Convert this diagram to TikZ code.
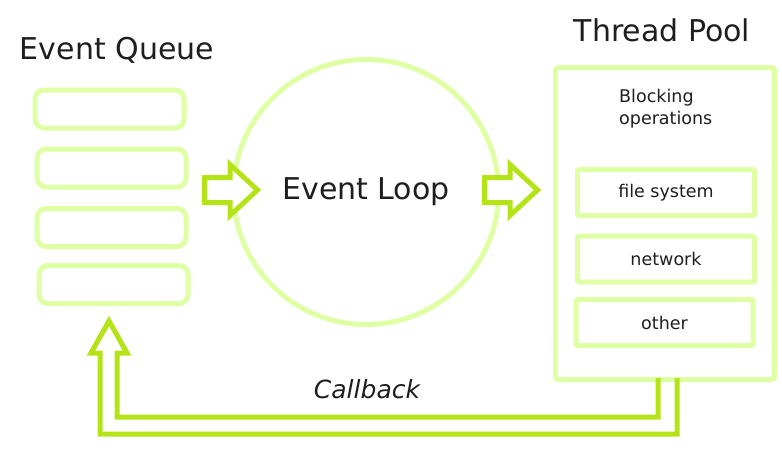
\documentclass[tikz,border=0pt]{standalone}
\usepackage{fontspec}
\setmainfont{DejaVu Sans}
\usepackage{tikz}
\usetikzlibrary{positioning}
\usetikzlibrary{calc}

\definecolor{palegreen}{RGB}{222,255,163}
\definecolor{limegreen}{RGB}{180,228,24}
\definecolor{inkgray}{RGB}{30,30,30}

\tikzset{
  queuebox/.style={draw=palegreen,line width=5pt,rounded corners=9pt,
                   minimum width=149pt,minimum height=38pt,inner sep=0pt},
  opbox/.style={draw=palegreen,line width=5pt,minimum width=177pt,rounded corners=1.5pt,
                minimum height=46pt,inner sep=0pt,font=\fontsize{17.5}{20}\selectfont,text=inkgray},
  title/.style={font=\fontsize{30}{35}\selectfont,text=inkgray},
  fatarrow/.style={draw=limegreen,line width=5pt,line join=miter,fill=white},
  fatline/.style={draw=limegreen,line width=5pt,line join=miter}
}

\begin{document}
\begin{tikzpicture}[x=1pt,y=-1pt]
\useasboundingbox (0,0) rectangle (782,471);
% event queue
\node[title] (qtitle) at (117,50) {Event Queue};
\node[queuebox] (q1) at (109.5,109) {};
\node[queuebox] (q2) at (111.5,168) {};
\node[queuebox] (q3) at (111.5,227.5) {};
\node[queuebox] (q4) at (113.5,284.5) {};
% event loop
\node[circle,draw=palegreen,line width=5pt,minimum size=265pt,inner sep=0pt
     ,title] (loop) at (366,192) {Event Loop};
% thread pool
\node[title] (ptitle) at (662,30) {Thread Pool};
\node[draw=palegreen,line width=5pt,minimum width=219pt,minimum height=312pt
     ,rounded corners=3pt,inner sep=0pt] (pool) at (665,223.5) {};
\node[anchor=west,align=left,inner sep=0pt,text=inkgray
     ,font=\fontsize{17.5}{22}\selectfont] (blocking) at (619,109) {Blocking\\operations};
\node[opbox] (fs) at (666,192.5) {file system};
\node[opbox] (net) at (666,259) {network};
\node[opbox] (other) at (664.5,322.5) {other};
% arrows
\coordinate (a1) at (204.5,190);
\coordinate (a2) at (484.5,190);
\foreach \t in {a1,a2}
  \draw[fatarrow] (\t) ++(0,-12.5) -- ++(25.5,0) -- ++(0,-13) -- ++(27.5,25.5)
    -- ++(-27.5,25.5) -- ++(0,-13) -- ++(-25.5,0) -- cycle;
% callback
\coordinate (cbin) at (658,378);
\coordinate (cbout) at (677,378);
\draw[fatline] (cbin) |- (117,417) -- (117,353) -- (127,353) -- (109,321)
  -- (91,353) -- (100,353) -- (100,434) -| (cbout);
\node[font=\fontsize{25}{30}\selectfont\itshape,text=inkgray] (cb) at (367,389) {Callback};
\end{tikzpicture}
\end{document}
